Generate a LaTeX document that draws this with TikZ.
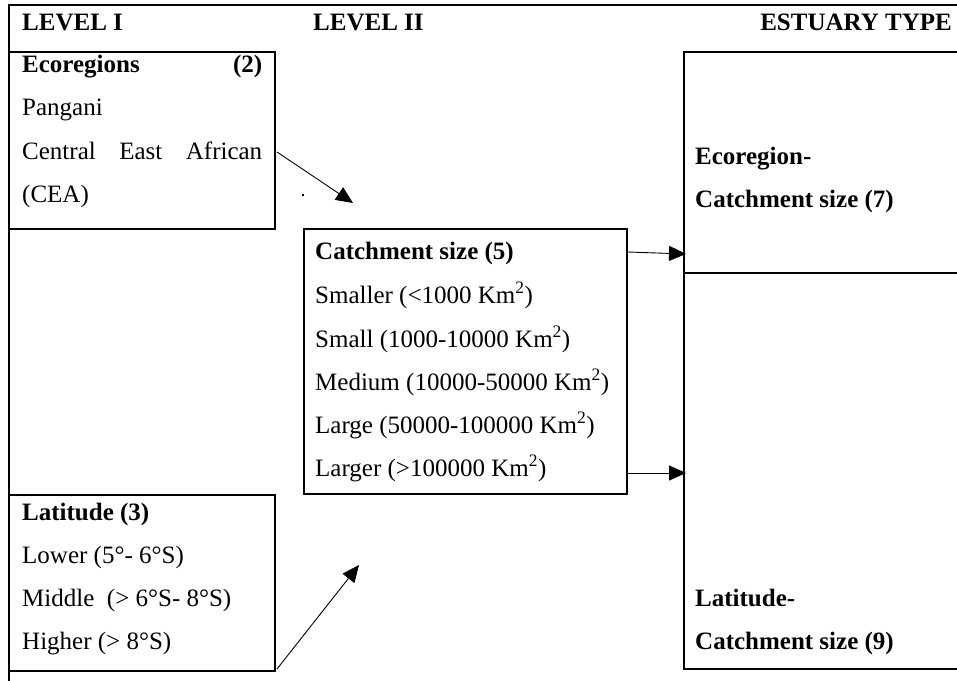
\documentclass[tikz,border=0pt]{standalone}
\usepackage{fontspec}
\setmainfont{Liberation Serif}
\usetikzlibrary{arrows.meta}
\begin{document}
\begin{tikzpicture}[x=1pt,y=-1pt,
  frame/.style={draw,line width=2.8pt,inner sep=0pt,outer sep=0pt,anchor=north west},
  txt/.style={anchor=base west,inner sep=0pt,font=\fontsize{25}{29}\selectfont},
  btxt/.style={anchor=base west,inner sep=0pt,font=\fontsize{25}{29}\selectfont\bfseries},
  arr/.style={line width=0.9pt,-{Triangle[length=17pt,width=15pt]}}]
\useasboundingbox (0,0) rectangle (957,680);
\clip (0,0) rectangle (957,680);
% outer frame
\node[frame,minimum width=1000pt,minimum height=700pt] (outer) at (9,5) {};
% boxes
\node[frame,minimum width=266pt,minimum height=177pt] (eco) at (9,52) {};
\node[frame,minimum width=323pt,minimum height=265pt] (cat) at (304,229) {};
\node[frame,minimum width=266pt,minimum height=176pt] (lat) at (9,495) {};
\node[frame,minimum width=320pt,minimum height=221pt] (ect) at (684,52) {};
\node[frame,minimum width=320pt,minimum height=396pt] (lct) at (684,273) {};
% headers
\node[btxt] (h1) at (22,30) {LEVEL I};
\node[btxt] (h2) at (313,30) {LEVEL II};
\node[btxt,anchor=base east] (h3) at (952,30) {ESTUARY TYPE};
% ecoregions
\node[btxt] (e1) at (22,72) {\makebox[240pt][l]{Ecoregions\hfill(2)}};
\node[txt] (e2) at (22,115) {Pangani};
\node[txt] (e3) at (22,159) {\makebox[240pt][s]{Central East African}};
\node[txt] (e4) at (22,202) {(CEA)};
% catchment
\node[btxt] (c0) at (315,259) {Catchment size (5)};
\node[txt] (c1) at (315,303) {Smaller (<1000 Km\textsuperscript{2})};
\node[txt] (c2) at (315,347) {Small (1000-10000 Km\textsuperscript{2})};
\node[txt] (c3) at (315,390) {Medium (10000-50000 Km\textsuperscript{2})};
\node[txt] (c4) at (315,433) {Large (50000-100000 Km\textsuperscript{2})};
\node[txt] (c5) at (315,476) {Larger (>100000 Km\textsuperscript{2})};
% latitude
\node[btxt] (l0) at (22,520) {Latitude (3)};
\node[txt] (l1) at (22,563) {Lower (5°- 6°S)};
\node[txt] (l2) at (22,606) {Middle\ \ (> 6°S- 8°S)};
\node[txt] (l3) at (22,649) {Higher (> 8°S)};
% estuary types
\node[btxt] (t1) at (695,164) {Ecoregion-};
\node[btxt] (t2) at (695,207) {Catchment size (7)};
\node[btxt] (t3) at (695,606) {Latitude-};
\node[btxt] (t4) at (695,649) {Catchment size (9)};
% arrow ends
\coordinate (a1s) at (277,152);
\coordinate (a1e) at (353,203);
\coordinate (a2s) at (628,252);
\coordinate (a2e) at (686,254);
\coordinate (a3s) at (628,473);
\coordinate (a3e) at (686,473);
\coordinate (a4s) at (277,669);
\coordinate (a4e) at (359,565);
\draw[arr] (a1s) -- (a1e);
\draw[arr] (a2s) -- (a2e);
\draw[arr] (a3s) -- (a3e);
\draw[arr] (a4s) -- (a4e);
% stray dot
\fill (302,194) rectangle (304,196);
\end{tikzpicture}
\end{document}
